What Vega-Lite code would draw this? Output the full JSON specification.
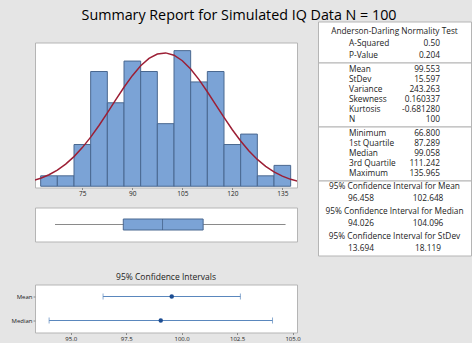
{
  "$schema": "https://vega.github.io/schema/vega-lite/v6.json",
  "background": "#e5e5e5",
  "padding": {"left": 10, "top": 8.5, "right": 0, "bottom": 0},
  "title": {"text": "Summary Report for Simulated IQ Data N = 100", "fontSize": 14.3, "font": "Open Sans", "fontWeight": "normal", "color": "#000000", "offset": -2.5, "dx": -2, "anchor": "middle"},
  "config": {
    "view": {"fill": "white", "stroke": "#b5b5b5"},
    "axis": {"labelFont": "Open Sans", "labelColor": "#222222", "tickColor": "#8a8a8a", "domain": false, "grid": false, "title": null},
    "text": {"font": "Open Sans", "fontSize": 8.3, "color": "#222222"},
    "title": {"font": "Open Sans", "fontWeight": "normal", "color": "#222222"}
  },
  "datasets": {
    "hist": [
      {"bin_start": 62.5, "bin_end": 67.5, "count": 1},
      {"bin_start": 67.5, "bin_end": 72.5, "count": 1},
      {"bin_start": 72.5, "bin_end": 77.5, "count": 4},
      {"bin_start": 77.5, "bin_end": 82.5, "count": 11},
      {"bin_start": 82.5, "bin_end": 87.5, "count": 8},
      {"bin_start": 87.5, "bin_end": 92.5, "count": 12},
      {"bin_start": 92.5, "bin_end": 97.5, "count": 11},
      {"bin_start": 97.5, "bin_end": 102.5, "count": 6},
      {"bin_start": 102.5, "bin_end": 107.5, "count": 13},
      {"bin_start": 107.5, "bin_end": 112.5, "count": 10},
      {"bin_start": 112.5, "bin_end": 117.5, "count": 11},
      {"bin_start": 117.5, "bin_end": 122.5, "count": 4},
      {"bin_start": 122.5, "bin_end": 127.5, "count": 5},
      {"bin_start": 127.5, "bin_end": 132.5, "count": 1},
      {"bin_start": 132.5, "bin_end": 137.5, "count": 2}
    ],
    "curve": [
      {"x": 60, "density": 0.513}, {"x": 62.5, "density": 0.761}, {"x": 65, "density": 1.1},
      {"x": 67.5, "density": 1.548}, {"x": 70, "density": 2.124}, {"x": 72.5, "density": 2.841},
      {"x": 75, "density": 3.704}, {"x": 77.5, "density": 4.707}, {"x": 80, "density": 5.828},
      {"x": 82.5, "density": 7.034}, {"x": 85, "density": 8.275}, {"x": 87.5, "density": 9.488},
      {"x": 90, "density": 10.601}, {"x": 92.5, "density": 11.546}, {"x": 95, "density": 12.255},
      {"x": 97.5, "density": 12.679}, {"x": 100, "density": 12.784}, {"x": 102.5, "density": 12.563},
      {"x": 105, "density": 12.032}, {"x": 107.5, "density": 11.232}, {"x": 110, "density": 10.219},
      {"x": 112.5, "density": 9.061}, {"x": 115, "density": 7.831}, {"x": 117.5, "density": 6.597},
      {"x": 120, "density": 5.415}, {"x": 122.5, "density": 4.333}, {"x": 125, "density": 3.379},
      {"x": 127.5, "density": 2.569}, {"x": 130, "density": 1.903}, {"x": 132.5, "density": 1.374},
      {"x": 135, "density": 0.966}, {"x": 137.5, "density": 0.663}, {"x": 140, "density": 0.443}
    ],
    "box": [{"var": "IQ", "min": 66.8, "q1": 87.289, "median": 99.058, "q3": 111.242, "max": 135.965}],
    "ci": [
      {"stat": "Mean", "est": 99.553, "lo": 96.458, "hi": 102.648},
      {"stat": "Median", "est": 99.058, "lo": 94.026, "hi": 104.096}
    ],
    "t1": [
      {"line": 1, "kind": "header", "item": "Anderson-Darling Normality Test", "value": ""},
      {"line": 2, "kind": "row", "item": "A-Squared", "value": "0.50"},
      {"line": 3, "kind": "row", "item": "P-Value", "value": "0.204"}
    ],
    "t2": [
      {"line": 1, "item": "Mean", "value": "99.553"},
      {"line": 2, "item": "StDev", "value": "15.597"},
      {"line": 3, "item": "Variance", "value": "243.263"},
      {"line": 4, "item": "Skewness", "value": "0.160337"},
      {"line": 5, "item": "Kurtosis", "value": "-0.681280"},
      {"line": 6, "item": "N", "value": "100"}
    ],
    "t3": [
      {"line": 1, "item": "Minimum", "value": "66.800"},
      {"line": 2, "item": "1st Quartile", "value": "87.289"},
      {"line": 3, "item": "Median", "value": "99.058"},
      {"line": 4, "item": "3rd Quartile", "value": "111.242"},
      {"line": 5, "item": "Maximum", "value": "135.965"}
    ],
    "t4": [
      {"line": 1, "kind": "header", "item": "95% Confidence Interval for Mean", "lo": "", "hi": ""},
      {"line": 2, "kind": "values", "item": "", "lo": "96.458", "hi": "102.648"},
      {"line": 3, "kind": "header", "item": "95% Confidence Interval for Median", "lo": "", "hi": ""},
      {"line": 4, "kind": "values", "item": "", "lo": "94.026", "hi": "104.096"},
      {"line": 5, "kind": "header", "item": "95% Confidence Interval for StDev", "lo": "", "hi": ""},
      {"line": 6, "kind": "values", "item": "", "lo": "13.694", "hi": "18.119"}
    ]
  },
  "spacing": 16,
  "hconcat": [
    {
      "spacing": 30,
      "vconcat": [
        {
          "spacing": 9,
          "vconcat": [
            {"width": 262, "height": 10, "data": {"values": []}, "mark": "point", "view": {"fill": "transparent", "stroke": "transparent"}},
            {
              "width": 262, "height": 145,
              "layer": [
                {
                  "data": {"name": "hist"},
                  "mark": {"type": "rect", "fill": "#7ba3d6", "stroke": "#4a6890", "strokeWidth": 1},
                  "encoding": {
                    "x": {"field": "bin_start", "type": "quantitative", "scale": {"domain": [60.8, 139.4], "nice": false, "zero": false},
                          "axis": {"values": [75, 90, 105, 120, 135], "labelFontSize": 6.5, "tickSize": 2, "labelPadding": 1}},
                    "x2": {"field": "bin_end"},
                    "y": {"field": "count", "type": "quantitative", "scale": {"domain": [-0.12, 13.78], "nice": false, "zero": false}, "axis": null},
                    "y2": {"datum": 0}
                  }
                },
                {
                  "data": {"name": "curve"},
                  "mark": {"type": "line", "color": "#9c1f35", "strokeWidth": 1.5, "clip": true},
                  "encoding": {
                    "x": {"field": "x", "type": "quantitative"},
                    "y": {"field": "density", "type": "quantitative"}
                  }
                }
              ]
            },
            {
              "width": 262, "height": 34,
              "data": {"name": "box"},
              "encoding": {"y": {"field": "var", "type": "nominal", "axis": null}},
              "layer": [
                {"mark": {"type": "rule", "color": "#8a8a8a", "strokeWidth": 1},
                 "encoding": {"x": {"field": "min", "type": "quantitative", "scale": {"domain": [60.8, 139.4], "nice": false, "zero": false}, "axis": null}, "x2": {"field": "max"}}},
                {"mark": {"type": "bar", "size": 11, "fill": "#7ba3d6", "stroke": "#4a6890", "strokeWidth": 1},
                 "encoding": {"x": {"field": "q1", "type": "quantitative"}, "x2": {"field": "q3"}}},
                {"mark": {"type": "tick", "size": 11, "thickness": 1, "color": "#3f5a80"},
                 "encoding": {"x": {"field": "median", "type": "quantitative"}}}
              ]
            }
          ]
        },
        {
          "width": 262, "height": 48,
          "title": {"text": "95% Confidence Intervals", "fontSize": 8.5, "offset": 3, "anchor": "middle"},
          "data": {"name": "ci"},
          "encoding": {"y": {"field": "stat", "type": "nominal", "sort": ["Mean", "Median"], "scale": {"type": "point", "padding": 0.5},
                             "axis": {"labelFontSize": 6, "tickSize": 2, "labelPadding": 1}}},
          "layer": [
            {"mark": {"type": "rule", "color": "#5a87bd", "strokeWidth": 1},
             "encoding": {"x": {"field": "lo", "type": "quantitative", "scale": {"domain": [93.39, 105.2], "nice": false, "zero": false},
                                "axis": {"values": [95, 97.5, 100, 102.5, 105], "format": ".1f", "labelFontSize": 6, "tickSize": 2, "labelPadding": 1}},
                          "x2": {"field": "hi"}}},
            {"mark": {"type": "tick", "size": 6, "thickness": 1, "color": "#5a87bd"},
             "encoding": {"x": {"field": "lo", "type": "quantitative"}}},
            {"mark": {"type": "tick", "size": 6, "thickness": 1, "color": "#5a87bd"},
             "encoding": {"x": {"field": "hi", "type": "quantitative"}}},
            {"mark": {"type": "point", "filled": true, "size": 20, "color": "#1d4d92", "opacity": 1},
             "encoding": {"x": {"field": "est", "type": "quantitative"}}}
          ]
        }
      ]
    },
    {
      "spacing": 0,
      "bounds": "flush",
      "vconcat": [
        {
          "width": 153, "height": 41,
          "data": {"name": "t1"},
          "encoding": {"y": {"field": "line", "type": "ordinal", "scale": {"type": "point", "padding": 0.7}, "axis": null}},
          "layer": [
            {"transform": [{"filter": "datum.kind == 'header'"}], "mark": {"type": "text", "align": "center", "dy": 2},
             "encoding": {"text": {"field": "item"}}},
            {"transform": [{"filter": "datum.kind == 'row'"}], "mark": {"type": "text", "align": "left", "dy": 2},
             "encoding": {"x": {"datum": "label", "type": "nominal", "scale": {"type": "point", "domain": ["label", "value"], "padding": 0.34}, "axis": null}, "text": {"field": "item"}}},
            {"transform": [{"filter": "datum.kind == 'row'"}], "mark": {"type": "text", "align": "right", "dy": 2},
             "encoding": {"x": {"datum": "value", "type": "nominal"}, "text": {"field": "value"}}}
          ]
        },
        {
          "width": 153, "height": 64,
          "data": {"name": "t2"},
          "encoding": {"y": {"field": "line", "type": "ordinal", "scale": {"type": "point", "padding": 0.7}, "axis": null}},
          "layer": [
            {"mark": {"type": "text", "align": "left"},
             "encoding": {"x": {"datum": "label", "type": "nominal", "scale": {"type": "point", "domain": ["label", "value"], "padding": 0.34}, "axis": null}, "text": {"field": "item"}}},
            {"mark": {"type": "text", "align": "right"},
             "encoding": {"x": {"datum": "value", "type": "nominal"}, "text": {"field": "value"}}}
          ]
        },
        {
          "width": 153, "height": 54,
          "data": {"name": "t3"},
          "encoding": {"y": {"field": "line", "type": "ordinal", "scale": {"type": "point", "padding": 0.7}, "axis": null}},
          "layer": [
            {"mark": {"type": "text", "align": "left"},
             "encoding": {"x": {"datum": "label", "type": "nominal", "scale": {"type": "point", "domain": ["label", "value"], "padding": 0.34}, "axis": null}, "text": {"field": "item"}}},
            {"mark": {"type": "text", "align": "right"},
             "encoding": {"x": {"datum": "value", "type": "nominal"}, "text": {"field": "value"}}}
          ]
        },
        {
          "width": 153, "height": 75,
          "data": {"name": "t4"},
          "encoding": {"y": {"field": "line", "type": "ordinal", "scale": {"type": "point", "padding": 0.52}, "axis": null}},
          "layer": [
            {"transform": [{"filter": "datum.kind == 'header'"}], "mark": {"type": "text", "align": "center"},
             "encoding": {"text": {"field": "item"}}},
            {"transform": [{"filter": "datum.kind == 'values'"}], "mark": {"type": "text", "align": "center"},
             "encoding": {"x": {"datum": "lo", "type": "nominal", "scale": {"type": "point", "domain": ["lo", "hi"], "padding": 0.64}, "axis": null}, "text": {"field": "lo"}}},
            {"transform": [{"filter": "datum.kind == 'values'"}], "mark": {"type": "text", "align": "center"},
             "encoding": {"x": {"datum": "hi", "type": "nominal"}, "text": {"field": "hi"}}}
          ]
        }
      ]
    }
  ]
}
